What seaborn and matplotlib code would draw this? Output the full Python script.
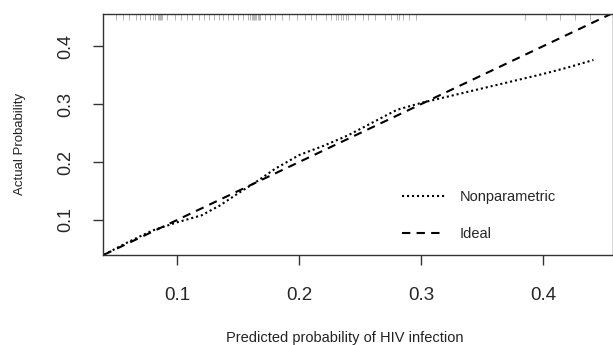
import numpy as np
import pandas as pd
import seaborn as sns
import matplotlib.pyplot as plt

# calibration curve
pred = [0.040, 0.060, 0.080, 0.100, 0.120, 0.135, 0.150, 0.165, 0.180, 0.200,
        0.220, 0.240, 0.260, 0.280, 0.300, 0.320, 0.340, 0.360, 0.380, 0.400,
        0.420, 0.441]
actual = [0.040, 0.062, 0.082, 0.096, 0.108, 0.125, 0.146, 0.166, 0.188, 0.212,
          0.228, 0.246, 0.268, 0.290, 0.302, 0.312, 0.322, 0.332, 0.342, 0.352,
          0.363, 0.376]
ideal = [0.040, 0.457]

# risk distribution rug along the top
rug = [0.050, 0.056, 0.061, 0.066, 0.070, 0.074, 0.078, 0.080, 0.082, 0.084,
       0.085, 0.086, 0.087, 0.088, 0.092, 0.098, 0.103, 0.108, 0.112, 0.118,
       0.122, 0.126, 0.130, 0.134, 0.138, 0.142, 0.146, 0.150, 0.154, 0.158,
       0.160, 0.161, 0.162, 0.163, 0.164, 0.165, 0.166, 0.167, 0.168, 0.172,
       0.176, 0.180, 0.186, 0.192, 0.198, 0.205, 0.210, 0.214, 0.222, 0.226,
       0.230, 0.232, 0.234, 0.236, 0.238, 0.240, 0.246, 0.252, 0.256, 0.262,
       0.270, 0.275, 0.280, 0.282, 0.285, 0.290, 0.296, 0.385, 0.402,
       0.414, 0.426, 0.438]

sns.set_style("white")
plt.rcParams['font.family'] = ['Liberation Sans', 'DejaVu Sans']

fig = plt.figure(figsize=(6.13, 3.45), dpi=100)
ax = fig.add_axes([0.168, 0.261, 0.832, 0.698])

df = pd.DataFrame({'pred': pred, 'actual': actual})
sns.lineplot(data=df, x='pred', y='actual', ax=ax, color='black', lw=1.5,
             linestyle=(0, (1, 1.4)), label='Nonparametric')
sns.lineplot(x=ideal, y=ideal, ax=ax, color='black', lw=1.5,
             linestyle=(0, (4, 3)), label='Ideal')

ax.vlines(rug, 0.975, 1.0, transform=ax.get_xaxis_transform(),
          color='#b5b5b5', lw=0.7)

ax.set_xlim(0.0393, 0.457)
ax.set_ylim(0.0397, 0.455)
ax.set_xticks([0.1, 0.2, 0.3, 0.4])
ax.set_yticks([0.1, 0.2, 0.3, 0.4])
ax.set_xticklabels(['0.1', '0.2', '0.3', '0.4'], fontsize=13.5)
ax.set_yticklabels(['0.1', '0.2', '0.3', '0.4'], fontsize=13, rotation=90,
                   va='center')
ax.tick_params(axis='both', direction='out', length=7, width=1, pad=16,
               color='#333333', bottom=True, left=True)
ax.tick_params(axis='y', pad=14)

for s in ax.spines.values():
    s.set_color('#333333')
    s.set_linewidth(1.0)

ax.set_xlabel('Predicted probability of HIV infection', fontsize=10.5,
              color='#222222', va='center')
ax.set_ylabel('Actual Probability', fontsize=9.5, color='#222222', va='center')
ax.xaxis.set_label_coords(0.475, -0.344)
ax.yaxis.set_label_coords(-0.163, 0.46)

leg = ax.legend(loc='lower left', bbox_to_anchor=(0.56, 0.005), frameon=False,
                fontsize=10.5, handlelength=3.0, handletextpad=1.0,
                labelspacing=1.55)

fig.savefig('out.png', dpi=100)
